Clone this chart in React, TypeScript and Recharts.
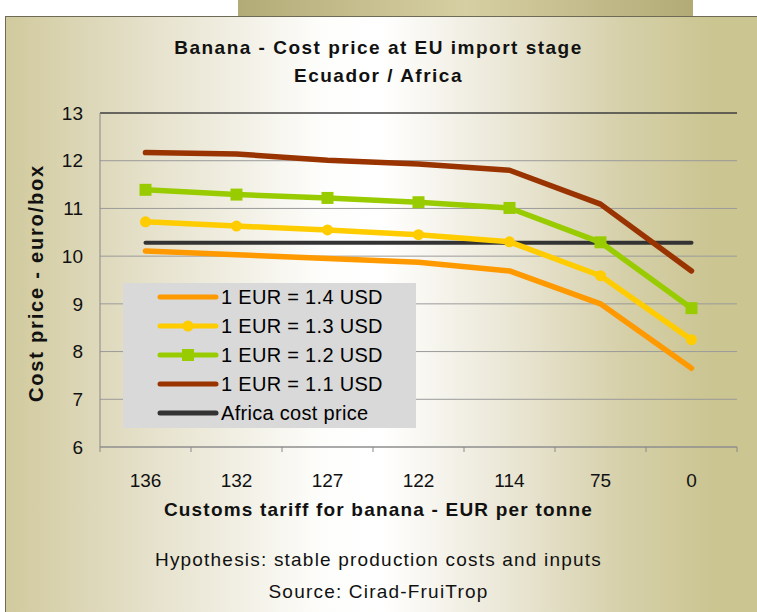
import React from 'react';
import { LineChart, Line, XAxis, YAxis, CartesianGrid, ReferenceLine } from 'recharts';

// tariff categories (EUR per tonne)
const categories = ['136', '132', '127', '122', '114', '75', '0'];
const eur14 = [10.11, 10.03, 9.95, 9.87, 9.69, 9.0, 7.65];
const eur13 = [10.72, 10.63, 10.55, 10.45, 10.3, 9.59, 8.25];
const eur12 = [11.39, 11.29, 11.22, 11.13, 11.01, 10.29, 8.91];
const eur11 = [12.17, 12.14, 12.01, 11.93, 11.8, 11.09, 9.69];
const africa = [10.28, 10.28, 10.28, 10.28, 10.28, 10.28, 10.28];
const yTicks = [6, 7, 8, 9, 10, 11, 12, 13];

const W = 757;
const H = 612;
const M = { top: 113, right: 20, bottom: 135, left: 40 };
const Y_W = 60;
const PLOT_W = W - M.left - M.right - Y_W;
const BAND = PLOT_W / categories.length;

const FONT = '"Liberation Sans", Arial, sans-serif';

const data = categories.map((c, i) => ({
  tariff: c,
  e14: eur14[i],
  e13: eur13[i],
  e12: eur12[i],
  e11: eur11[i],
  africa: africa[i],
}));

const legendItems = [
  { label: '1 EUR = 1.4 USD', color: '#FF9900', marker: 'none' },
  { label: '1 EUR = 1.3 USD', color: '#FFCC00', marker: 'circle' },
  { label: '1 EUR = 1.2 USD', color: '#99CC00', marker: 'square' },
  { label: '1 EUR = 1.1 USD', color: '#993300', marker: 'none' },
  { label: 'Africa cost price', color: '#333333', marker: 'none' },
];

const XTick = (props: any) => {
  const { x, y, payload, index } = props;
  const half = BAND / 2;
  const last = index === categories.length - 1;
  return (
    <g>
      <line x1={x - half} x2={x - half} y1={y - 6} y2={y - 1} stroke="#888" />
      {last && <line x1={x + half} x2={x + half} y1={y - 6} y2={y - 1} stroke="#888" />}
      <text x={x} y={y + 34} textAnchor="middle" fontSize={19} fill="#111" fontFamily={FONT}>
        {payload.value}
      </text>
    </g>
  );
};

const SquareDot = (props: any) => {
  const { cx, cy } = props;
  if (cx == null || cy == null) return null;
  return <rect x={cx - 6} y={cy - 6} width={12} height={12} fill="#99CC00" />;
};

const LegendBox = () => (
  <div
    style={{
      position: 'absolute',
      left: 123,
      top: 283,
      background: '#d9d9d9',
      width: 293,
      height: 145,
      boxSizing: 'border-box',
      fontFamily: FONT,
      fontSize: 20,
      letterSpacing: 0.3,
      color: '#000',
    }}
  >
    {legendItems.map((it) => (
      <div key={it.label} style={{ display: 'flex', alignItems: 'center', height: 28.8, paddingLeft: 34 }}>
        <svg width={62} height={14} style={{ marginRight: 2 }}>
          <line x1={3} x2={59} y1={7} y2={7} stroke={it.color} strokeWidth={5} strokeLinecap="round" />
          {it.marker === 'circle' && <circle cx={31} cy={7} r={5.5} fill={it.color} />}
          {it.marker === 'square' && <rect x={25} y={1} width={12} height={12} fill={it.color} />}
        </svg>
        <span style={{ lineHeight: '20px' }}>{it.label}</span>
      </div>
    ))}
  </div>
);

const textStyle: React.CSSProperties = {
  position: 'absolute',
  left: 0,
  width: W,
  textAlign: 'center',
  fontFamily: FONT,
  color: '#111',
  whiteSpace: 'nowrap',
};

export default function App() {
  return (
    <div style={{ position: 'absolute', left: 0, top: 0, width: W, height: H, background: '#fff', overflow: 'hidden' }}>
      <div
        style={{
          position: 'absolute',
          left: 238,
          top: 0,
          width: 455,
          height: 17,
          background: 'linear-gradient(90deg, #b3ab76 0%, #d6cfa3 50%, #b3ab76 100%)',
        }}
      />
      <div
        style={{
          position: 'absolute',
          left: 5,
          top: 16,
          width: W - 5,
          height: H - 16,
          boxSizing: 'border-box',
          borderLeft: '1px solid #6d6a55',
          borderTop: '1px solid #6d6a55',
          background:
            'linear-gradient(90deg, #d1ca9e 0%, #e6e2cd 20%, #fdfdfb 42%, #ffffff 50%, #ebe8d8 66%, #d6d0aa 82%, #cbc592 94%, #cbc592 100%)',
        }}
      />
      <div style={{ position: 'absolute', left: 0, top: 0 }}>
        <LineChart width={W} height={H} data={data} margin={M}>
          <CartesianGrid horizontal vertical={false} stroke="#9a9a9a" />
          <XAxis
            dataKey="tariff"
            height={30}
            padding={{ left: BAND / 2, right: BAND / 2 }}
            axisLine={{ stroke: '#888' }}
            tickLine={false}
            tickSize={6}
            tickMargin={0}
            tick={<XTick />}
            interval={0}
          />
          <YAxis
            domain={[6, 13]}
            ticks={yTicks}
            width={Y_W}
            axisLine={{ stroke: '#888' }}
            tickLine={false}
            tickSize={6}
            tickMargin={11}
            tick={{ fontSize: 19, fill: '#111', fontFamily: FONT }}
            allowDataOverflow
          />
          <YAxis yAxisId="right" orientation="right" width={0} domain={[6, 13]} tick={false} tickLine={false} axisLine={{ stroke: '#111' }} />
          <ReferenceLine y={13} stroke="#111" />
          <Line dataKey="africa" stroke="#333333" strokeWidth={4} strokeLinecap="round" dot={false} isAnimationActive={false} />
          <Line dataKey="e14" stroke="#FF9900" strokeWidth={5.5} strokeLinecap="round" strokeLinejoin="round" dot={false} isAnimationActive={false} />
          <Line dataKey="e13" stroke="#FFCC00" strokeWidth={5.5} strokeLinecap="round" strokeLinejoin="round" dot={{ r: 5.5, fill: '#FFCC00', stroke: 'none' }} isAnimationActive={false} />
          <Line dataKey="e12" stroke="#99CC00" strokeWidth={5.5} strokeLinecap="round" strokeLinejoin="round" dot={<SquareDot />} isAnimationActive={false} />
          <Line dataKey="e11" stroke="#993300" strokeWidth={5.5} strokeLinecap="round" strokeLinejoin="round" dot={false} isAnimationActive={false} />
        </LineChart>
      </div>
      <LegendBox />
      <div style={{ ...textStyle, top: 34, fontSize: 19, fontWeight: 'bold', letterSpacing: 1.5, lineHeight: '28px' }}>
        Banana - Cost price at EU import stage
        <br />
        Ecuador / Africa
      </div>
      <div
        style={{
          position: 'absolute',
          left: 36,
          top: 283,
          transform: 'translate(-50%, -50%) rotate(-90deg)',
          fontFamily: FONT,
          fontSize: 20,
          fontWeight: 'bold',
          letterSpacing: 1.8,
          whiteSpace: 'nowrap',
          color: '#111',
        }}
      >
        Cost price - euro/box
      </div>
      <div style={{ ...textStyle, top: 499, fontSize: 19, fontWeight: 'bold', letterSpacing: 1.2 }}>
        Customs tariff for banana - EUR per tonne
      </div>
      <div style={{ ...textStyle, top: 544, fontSize: 19, letterSpacing: 1.2, lineHeight: '32px' }}>
        Hypothesis: stable production costs and inputs
        <br />
        Source: Cirad-FruiTrop
      </div>
    </div>
  );
}
